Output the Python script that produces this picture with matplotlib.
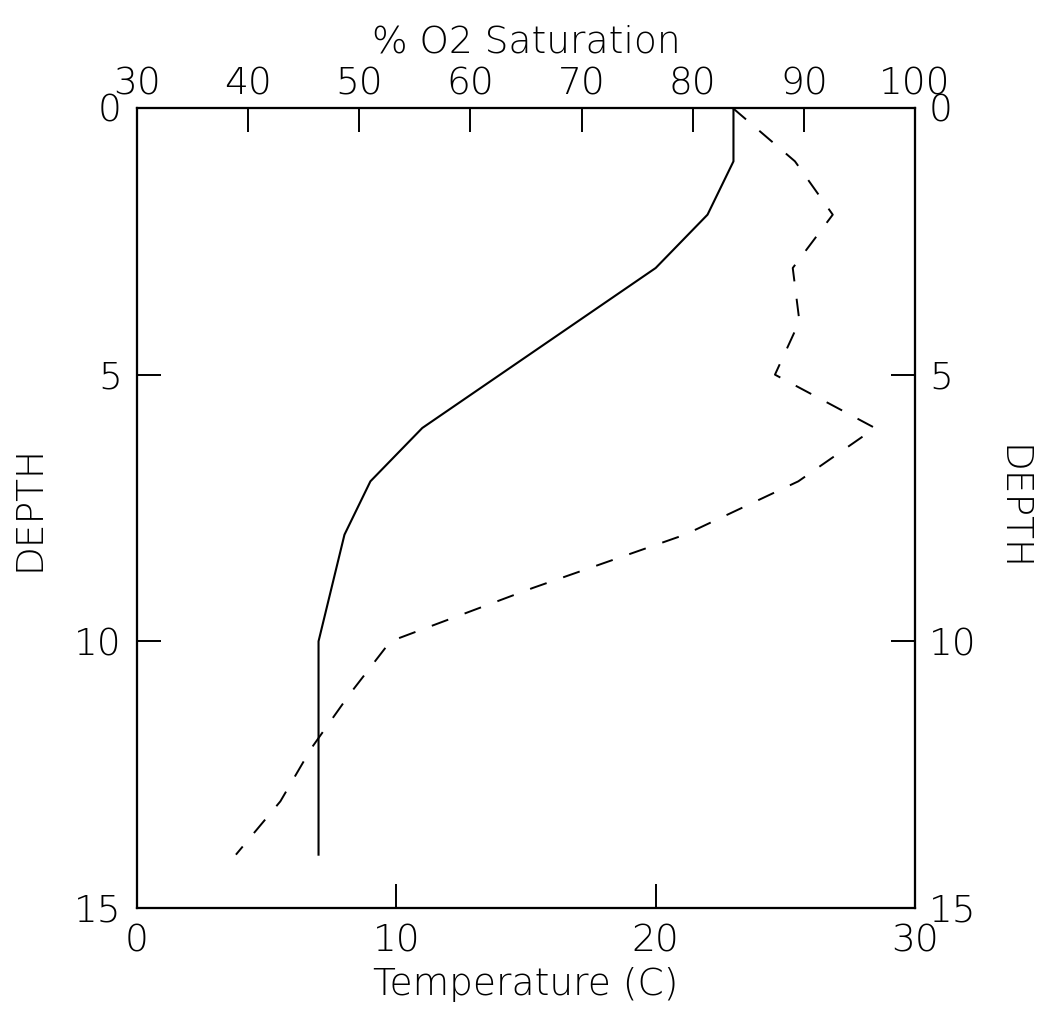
import matplotlib
matplotlib.use('Agg')
import matplotlib.pyplot as plt

# depth profile
depth_temp = [0, 1, 2, 3, 4, 5, 6, 7, 8, 9, 10, 14]
temperature = [23, 23, 22, 20, 17, 14, 11, 9, 8, 7.5, 7, 7]

depth_o2 = [0, 1, 2, 3, 4, 5, 6, 7, 8, 9, 10, 11, 12, 13, 14]
o2_sat = [83.6, 89.2, 92.6, 89.0, 89.6, 87.4, 96.4, 89.5, 79.3, 65.6, 52.8, 49.1, 45.7, 42.9, 38.9]

temp_ticks = [0, 10, 20, 30]
o2_ticks = [30, 40, 50, 60, 70, 80, 90, 100]
depth_ticks = [0, 5, 10, 15]

plt.rcParams['font.family'] = ['DejaVu Sans']
plt.rcParams['font.weight'] = 200
plt.rcParams['axes.labelweight'] = 200
FS = 27

fig = plt.figure(figsize=(10.44, 10.09), dpi=100)
ax = fig.add_axes([137 / 1044, 1 - 908 / 1009, 778 / 1044, 800 / 1009])

ax.plot(temperature, depth_temp, color='black', lw=1.5)
ax.set_xlim(0, 30)
ax.set_ylim(15, 0)
ax.set_xticks(temp_ticks)
ax.set_yticks(depth_ticks)
ax.tick_params(axis='x', direction='in', length=17, width=1.4, labelsize=FS, pad=11,
               top=False)
ax.tick_params(axis='y', direction='in', length=17, width=1.4, labelsize=FS, pad=11,
               right=False)
ax.set_xlabel('Temperature (C)', fontsize=FS, labelpad=6)
ax.set_ylabel('DEPTH', fontsize=FS, labelpad=20)

# top axis: oxygen saturation
ax2 = ax.twiny()
ax2.plot(o2_sat, depth_o2, color='black', lw=1.4, linestyle=(0, (9, 9)))
ax2.set_xlim(30, 100)
ax2.set_xticks(o2_ticks)
ax2.tick_params(axis='x', direction='in', length=17, width=1.4, labelsize=FS, pad=5)
ax2.set_xlabel('% O2 Saturation', fontsize=FS, labelpad=10)

# right depth axis
ax3 = ax.twinx()
ax3.set_ylim(15, 0)
ax3.set_yticks(depth_ticks)
ax3.tick_params(axis='y', direction='in', length=17, width=1.4, labelsize=FS, pad=10)
ax3.set_ylabel('DEPTH', fontsize=FS, rotation=-90, labelpad=38)

for a in (ax, ax2, ax3):
    for s in a.spines.values():
        s.set_linewidth(1.5)

fig.savefig('out.png', dpi=100)
